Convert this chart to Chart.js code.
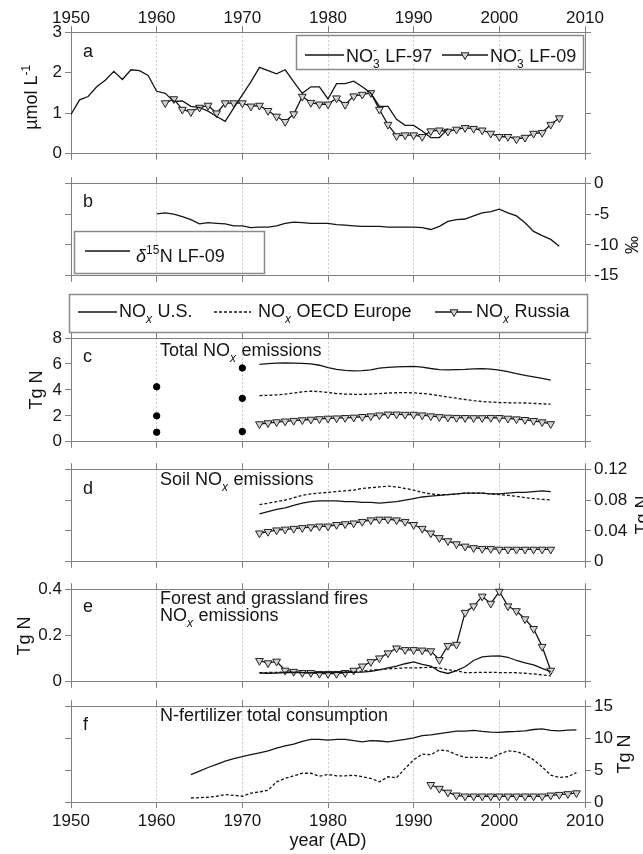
<!DOCTYPE html>
<html>
<head>
<meta charset="utf-8">
<script src="https://cdn.jsdelivr.net/npm/chart.js@4/dist/chart.umd.min.js"></script>
<style>
  body { margin: 0; background: #fff; }
  #wrap { position: relative; width: 643px; height: 854px; overflow: hidden; }
  #wrap canvas { position: absolute; left: 0; }
</style>
</head>
<body>
<div id="wrap">
  <canvas id="pa"></canvas>
  <canvas id="pb"></canvas>
  <canvas id="pc"></canvas>
  <canvas id="pd"></canvas>
  <canvas id="pe"></canvas>
  <canvas id="pf"></canvas>
</div>
<script>
// ---- data ----
const xTicks = [1950, 1960, 1970, 1980, 1990, 2000, 2010];

// a: nitrate
const lf97Start = 1950;
const lf97 = [0.97, 1.33, 1.41, 1.65, 1.81, 2.03, 1.83, 2.07, 2.05, 1.93,
  1.54, 1.49, 1.29, 1.30, 1.17, 1.14, 1.05, 0.92, 0.80, 1.13,
  1.45, 1.77, 2.13, 2.05, 1.97, 2.07, 1.77, 1.49, 1.65, 1.65,
  1.35, 1.73, 1.73, 1.79, 1.65, 1.49, 1.17, 1.17, 0.85, 0.70,
  0.70, 0.56, 0.40, 0.40, 0.62];
const lf09Start = 1961;
const lf09 = [1.25, 1.35, 1.09, 1.03, 1.14, 1.19, 1.00, 1.25, 1.25, 1.25,
  1.17, 1.19, 1.06, 0.92, 0.79, 0.98, 1.41, 1.26, 1.22, 1.22,
  1.37, 1.21, 1.42, 1.46, 1.50, 1.09, 0.72, 0.44, 0.46, 0.46,
  0.42, 0.56, 0.58, 0.55, 0.60, 0.64, 0.62, 0.58, 0.50, 0.42,
  0.42, 0.36, 0.40, 0.50, 0.52, 0.72, 0.88];
const yTicksA = [0, 1, 2, 3];

// b: d15N
const d15Start = 1960;
const d15N = [-4.98, -4.8, -5.0, -5.4, -5.9, -6.6, -6.4, -6.5, -6.6, -6.9,
  -6.9, -7.2, -7.1, -7.1, -6.9, -6.5, -6.3, -6.4, -6.5, -6.5,
  -6.5, -6.7, -6.8, -6.9, -7.0, -7.0, -7.0, -7.1, -7.1, -7.1,
  -7.1, -7.2, -7.5, -7.0, -6.2, -5.9, -5.8, -5.3, -4.8, -4.6,
  -4.2, -4.8, -5.3, -6.4, -7.8, -8.5, -9.1, -10.2];
const yTicksB = [-15, -10, -5, 0];

// c: total NOx emissions
const emisStart = 1972;
const totUS = [5.97, 6.03, 6.07, 6.08, 6.07, 6.05, 6.00, 5.90, 5.72, 5.58,
  5.50, 5.47, 5.48, 5.55, 5.68, 5.74, 5.77, 5.80, 5.82, 5.75,
  5.65, 5.57, 5.55, 5.56, 5.58, 5.62, 5.64, 5.60, 5.52, 5.40,
  5.25, 5.12, 5.00, 4.88, 4.76];
const totEU = [3.56, 3.58, 3.62, 3.68, 3.76, 3.85, 3.90, 3.87, 3.80, 3.72,
  3.68, 3.66, 3.66, 3.68, 3.72, 3.76, 3.78, 3.79, 3.77, 3.72,
  3.66, 3.56, 3.45, 3.36, 3.26, 3.17, 3.10, 3.06, 3.03, 3.01,
  3.00, 2.99, 2.96, 2.93, 2.90];
const totRU = [1.37, 1.45, 1.52, 1.58, 1.63, 1.68, 1.72, 1.76, 1.80, 1.82,
  1.85, 1.88, 1.93, 1.98, 2.05, 2.12, 2.12, 2.10, 2.10, 2.05,
  1.98, 1.92, 1.88, 1.86, 1.85, 1.84, 1.84, 1.86, 1.85, 1.80,
  1.75, 1.70, 1.62, 1.52, 1.38];
const dotYears = [1960, 1970];
const dotUS = [4.24, 5.69];
const dotEU = [2.0, 3.35];
const dotRU = [0.74, 0.79];
const yTicksC = [0, 2, 4, 6, 8];

// d: soil NOx emissions
const soilUS = [0.062, 0.065, 0.068, 0.070, 0.073, 0.076, 0.078, 0.079, 0.079, 0.079,
  0.078, 0.078, 0.077, 0.077, 0.076, 0.077, 0.078, 0.080, 0.082, 0.084,
  0.085, 0.086, 0.087, 0.088, 0.089, 0.089, 0.089, 0.088, 0.088, 0.089,
  0.090, 0.090, 0.091, 0.092, 0.091];
const soilEU = [0.074, 0.076, 0.078, 0.080, 0.083, 0.086, 0.088, 0.089, 0.090, 0.091,
  0.092, 0.093, 0.095, 0.096, 0.097, 0.098, 0.097, 0.095, 0.093, 0.090,
  0.088, 0.087, 0.087, 0.088, 0.089, 0.089, 0.089, 0.088, 0.087, 0.086,
  0.085, 0.083, 0.082, 0.081, 0.080];
const soilRU = [0.037, 0.039, 0.041, 0.042, 0.043, 0.044, 0.045, 0.046, 0.046, 0.048,
  0.049, 0.050, 0.052, 0.054, 0.055, 0.055, 0.054, 0.052, 0.048, 0.043,
  0.037, 0.031, 0.027, 0.023, 0.020, 0.018, 0.017, 0.017, 0.016, 0.016,
  0.016, 0.016, 0.016, 0.016, 0.016];
const yTicksD = [0, 0.04, 0.08, 0.12];

// e: fire NOx emissions
const fireUS = [0.038, 0.037, 0.038, 0.040, 0.041, 0.040, 0.039, 0.040, 0.040, 0.041,
  0.041, 0.041, 0.042, 0.045, 0.052, 0.060, 0.068, 0.078, 0.086, 0.075,
  0.068, 0.045, 0.036, 0.048, 0.065, 0.092, 0.108, 0.111, 0.112, 0.106,
  0.092, 0.082, 0.073, 0.058, 0.044];
const fireEU = [0.040, 0.040, 0.041, 0.042, 0.042, 0.041, 0.040, 0.041, 0.042, 0.042,
  0.043, 0.044, 0.046, 0.050, 0.053, 0.056, 0.058, 0.060, 0.060, 0.061,
  0.063, 0.060, 0.052, 0.047, 0.040, 0.040, 0.041, 0.041, 0.040, 0.040,
  0.039, 0.037, 0.034, 0.030, 0.026];
const fireRU = [0.091, 0.081, 0.088, 0.049, 0.044, 0.039, 0.039, 0.035, 0.035, 0.035,
  0.039, 0.049, 0.067, 0.086, 0.102, 0.124, 0.145, 0.138, 0.138, 0.136,
  0.133, 0.095, 0.156, 0.161, 0.299, 0.327, 0.369, 0.338, 0.390, 0.327,
  0.306, 0.271, 0.229, 0.152, 0.049];
const yTicksE = [0, 0.2, 0.4];

// f: N-fertilizer consumption
const fertStart = 1964;
const fertUS = [4.3, 4.85, 5.4, 5.9, 6.4, 6.8, 7.1, 7.4, 7.7, 8.0,
  8.45, 8.8, 9.05, 9.5, 9.8, 9.8, 9.7, 9.8, 9.8, 9.6,
  9.4, 9.6, 9.55, 9.4, 9.6, 9.8, 10.05, 10.4, 10.5, 10.7,
  10.9, 11.1, 11.1, 11.2, 11.05, 10.95, 10.9, 11.0, 11.05, 11.15,
  11.35, 11.45, 11.2, 11.15, 11.25, 11.3];
const fertEU = [0.63, 0.68, 0.74, 0.9, 1.16, 1.05, 0.9, 1.4, 1.58, 1.84,
  3.16, 3.7, 4.1, 4.5, 4.5, 4.05, 4.3, 4.1, 4.1, 4.2,
  3.95, 3.7, 3.16, 3.95, 3.8, 5.26, 6.6, 7.5, 7.4, 8.15,
  8.0, 7.4, 7.0, 7.0, 7.0, 6.85, 7.5, 8.0, 7.9, 7.4,
  6.6, 5.5, 4.2, 3.85, 3.95, 4.6];
const fertRUStart = 1992;
const fertRU = [2.7, 2.1, 1.5, 1.05, 0.9, 0.9, 0.9, 0.9, 0.9, 0.9,
  0.9, 0.9, 0.9, 0.9, 1.05, 1.15, 1.26, 1.4];
const yTicksF = [0, 5, 10, 15];

// ---- styling helpers ----
const FONT = '"Liberation Sans", Arial, sans-serif';
const INK = '#151515';
const FRAME = '#808080';
const TRI_FILL = '#d2d2d2';
Chart.defaults.font.family = FONT;
Chart.defaults.font.size = 17;
Chart.defaults.color = INK;

function seq(start, values) {
  return values.map((v, i) => ({ x: start + i, y: v }));
}
function lineDs(start, values, dash) {
  return { data: seq(start, values), borderColor: INK, borderWidth: 1.3,
    borderDash: dash || [], pointRadius: 0, fill: false, tension: 0 };
}
function triDs(start, values) {
  return { data: seq(start, values), borderColor: INK, borderWidth: 1.3,
    pointStyle: 'triangle', rotation: 180, pointRadius: 4.5,
    pointBackgroundColor: TRI_FILL, pointBorderColor: '#222', pointBorderWidth: 1,
    fill: false, tension: 0, clip: false };
}
function fmt(v) { return String(parseFloat(Number(v).toFixed(3))); }

function xAxis(position, labels, size) {
  return {
    type: 'linear', position, min: 1950, max: 2010,
    afterBuildTicks: s => { s.ticks = xTicks.map(v => ({ value: v })); },
    afterFit: s => { s.height = size; },
    ticks: { display: labels, padding: position === 'top' ? -3 : 3, maxRotation: 0, callback: v => String(v) },
    grid: { drawOnChartArea: position === 'bottom', color: '#cdcdcd', lineWidth: 1,
      tickColor: FRAME, tickLength: 6, tickBorderDash: [] },
    border: { color: FRAME, width: 1, dash: [2, 2] }
  };
}
function yAxis(position, tickVals, labels, width) {
  return {
    type: 'linear', position, min: tickVals[0], max: tickVals[tickVals.length - 1],
    afterBuildTicks: s => { s.ticks = tickVals.map(v => ({ value: v })); },
    afterFit: s => { s.width = width; },
    ticks: { display: labels, padding: 3, callback: v => fmt(v) },
    grid: { drawOnChartArea: false, tickColor: FRAME, tickLength: 6 },
    border: { color: FRAME, width: 1 }
  };
}

// rich text: strings, {it}, {sup, sub, subIt}
function rich(ctx, parts, x, y, size, measure) {
  const small = Math.round(size * 0.68);
  let cx = x;
  for (const p of parts) {
    if (typeof p === 'string' || p.it) {
      const s = typeof p === 'string' ? p : p.it;
      ctx.font = (p.it ? 'italic ' : '') + size + 'px ' + FONT;
      if (!measure) ctx.fillText(s, cx, y);
      cx += ctx.measureText(s).width;
    } else {
      let w = 0;
      if (p.sup) {
        ctx.font = small + 'px ' + FONT;
        if (!measure) ctx.fillText(p.sup, cx, y - size * 0.42);
        w = Math.max(w, ctx.measureText(p.sup).width);
      }
      if (p.sub) {
        ctx.font = (p.subIt ? 'italic ' : '') + small + 'px ' + FONT;
        if (!measure) ctx.fillText(p.sub, cx, y + size * 0.33);
        w = Math.max(w, ctx.measureText(p.sub).width);
      }
      cx += w + 0.5;
    }
  }
  return cx - x;
}
function vtitle(ctx, parts, cx, cy, size) {
  ctx.save();
  ctx.translate(cx, cy);
  ctx.rotate(-Math.PI / 2);
  const w = rich(ctx, parts, 0, 0, size, true);
  rich(ctx, parts, -w / 2, size * 0.36, size);
  ctx.restore();
}
function triDown(ctx, x, y, r) {
  const h = r * Math.sin(Math.PI / 3);
  ctx.beginPath();
  ctx.moveTo(x, y + r);
  ctx.lineTo(x - h, y - r / 2);
  ctx.lineTo(x + h, y - r / 2);
  ctx.closePath();
  ctx.fillStyle = TRI_FILL;
  ctx.fill();
  ctx.strokeStyle = '#222';
  ctx.lineWidth = 1;
  ctx.stroke();
  ctx.fillStyle = INK;
}
function sample(ctx, x1, x2, y, dash) {
  ctx.save();
  ctx.strokeStyle = INK;
  ctx.lineWidth = 1.3;
  ctx.setLineDash(dash || []);
  ctx.beginPath();
  ctx.moveTo(x1, y);
  ctx.lineTo(x2, y);
  ctx.stroke();
  ctx.restore();
}
function box(ctx, x, y, w, h) {
  ctx.save();
  ctx.strokeStyle = '#8a8a8a';
  ctx.lineWidth = 1.5;
  ctx.strokeRect(x, y, w, h);
  ctx.restore();
}
const NOX = ['NO', { sub: 'x', subIt: true }];

// ---- panel factory ----
function panel(id, plotTop, padTop, plotH, padBottom, opts) {
  const cv = document.getElementById(id);
  const top = plotTop - padTop;
  cv.width = 643;
  cv.height = padTop + plotH + padBottom;
  cv.style.top = top + 'px';
  new Chart(cv.getContext('2d'), {
    type: 'line',
    data: { datasets: opts.datasets },
    options: {
      responsive: false, animation: false, events: [],
      layout: { padding: 0 },
      plugins: { legend: { display: false }, tooltip: { enabled: false } },
      scales: {
        x: xAxis('bottom', !!opts.bottomLabels, padBottom),
        xt: xAxis('top', !!opts.topLabels, padTop),
        y: yAxis('left', opts.ticks, opts.side === 'left', 71),
        yr: yAxis('right', opts.ticks, opts.side === 'right', 58)
      }
    },
    plugins: [{
      id: 'deco',
      afterDraw(chart) {
        const ctx = chart.ctx;
        ctx.save();
        ctx.translate(0, -top);
        ctx.fillStyle = INK;
        ctx.textAlign = 'left';
        ctx.textBaseline = 'alphabetic';
        opts.deco(ctx);
        ctx.restore();
      }
    }]
  });
}

// a
panel('pa', 32, 32, 125, 10, {
  ticks: yTicksA, side: 'left', topLabels: true,
  datasets: [lineDs(lf97Start, lf97), triDs(lf09Start, lf09)],
  deco(ctx) {
    rich(ctx, ['a'], 83, 57, 18);
    box(ctx, 296.5, 35.5, 287, 34);
    sample(ctx, 305, 344, 55);
    rich(ctx, ['NO', { sup: '-', sub: '3' }, ' LF-97'], 346, 62, 18);
    sample(ctx, 442, 488, 55);
    triDown(ctx, 465, 55, 4.5);
    rich(ctx, ['NO', { sup: '-', sub: '3' }, ' LF-09'], 490, 62, 18);
    vtitle(ctx, ['µmol L', { sup: '-1' }], 31, 97, 18);
  }
});

// b
panel('pb', 182, 12, 95, 12, {
  ticks: yTicksB, side: 'right',
  datasets: [lineDs(d15Start, d15N)],
  deco(ctx) {
    rich(ctx, ['b'], 83, 207, 18);
    box(ctx, 74.5, 231.5, 190, 42);
    sample(ctx, 85, 130, 251);
    rich(ctx, [{ it: 'δ' }, { sup: '15' }, 'N LF-09'], 136, 262, 18);
    vtitle(ctx, ['‰'], 632, 245, 18);
  }
});

// c
panel('pc', 338, 46, 105, 12, {
  ticks: yTicksC, side: 'left',
  datasets: [
    lineDs(emisStart, totUS), lineDs(emisStart, totEU, [3, 2]), triDs(emisStart, totRU),
    { data: dotYears.flatMap((yr, i) => [{ x: yr, y: dotUS[i] }, { x: yr, y: dotEU[i] }, { x: yr, y: dotRU[i] }]),
      showLine: false, pointRadius: 3.2, pointBackgroundColor: '#000', pointBorderColor: '#000', clip: false }
  ],
  deco(ctx) {
    box(ctx, 69.5, 294.5, 518, 38);
    sample(ctx, 78, 117, 312);
    rich(ctx, [...NOX, ' U.S.'], 119, 317, 18);
    sample(ctx, 214, 251, 312, [3, 2]);
    rich(ctx, [...NOX, ' OECD Europe'], 258, 317, 18);
    sample(ctx, 435, 472, 312);
    triDown(ctx, 454, 312, 4.5);
    rich(ctx, [...NOX, ' Russia'], 476, 317, 18);
    rich(ctx, ['c'], 83, 362, 18);
    rich(ctx, ['Total ', ...NOX, ' emissions'], 160, 356, 18);
    vtitle(ctx, ['Tg N'], 36, 390, 18);
  }
});

// d
panel('pd', 468, 12, 95, 12, {
  ticks: yTicksD, side: 'right',
  datasets: [lineDs(emisStart, soilUS), lineDs(emisStart, soilEU, [3, 2]), triDs(emisStart, soilRU)],
  deco(ctx) {
    rich(ctx, ['d'], 83, 494, 18);
    rich(ctx, ['Soil ', ...NOX, ' emissions'], 160, 485, 18);
    vtitle(ctx, ['Tg N'], 642, 515, 18);
  }
});

// e
panel('pe', 588, 12, 95, 12, {
  ticks: yTicksE, side: 'left',
  datasets: [lineDs(emisStart, fireUS), lineDs(emisStart, fireEU, [3, 2]), triDs(emisStart, fireRU)],
  deco(ctx) {
    rich(ctx, ['e'], 83, 612, 18);
    rich(ctx, ['Forest and grassland fires'], 160, 604, 18);
    rich(ctx, [...NOX, ' emissions'], 160, 621, 18);
    vtitle(ctx, ['Tg N'], 24, 636, 18);
  }
});

// f
panel('pf', 705, 12, 97, 52, {
  ticks: yTicksF, side: 'right', bottomLabels: true,
  datasets: [lineDs(fertStart, fertUS), lineDs(fertStart, fertEU, [3, 2]), triDs(fertRUStart, fertRU)],
  deco(ctx) {
    rich(ctx, ['f'], 83, 730, 18);
    rich(ctx, ['N-fertilizer total consumption'], 160, 721, 18);
    vtitle(ctx, ['Tg N'], 624, 754, 18);
    ctx.font = '18px ' + FONT;
    ctx.textAlign = 'center';
    ctx.fillText('year (AD)', 328, 846);
  }
});
</script>
</body>
</html>
